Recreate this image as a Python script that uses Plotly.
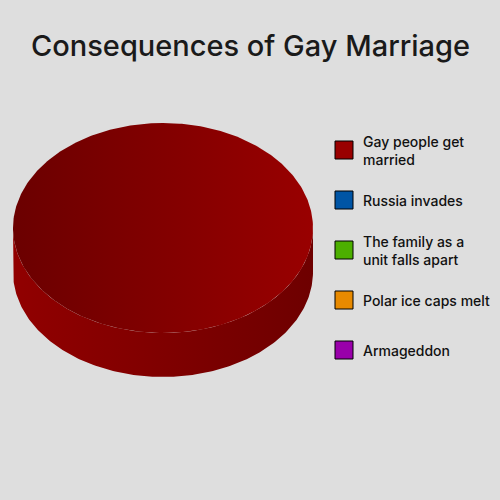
import numpy as np
import plotly.graph_objects as go

# chart data
categories = ["Gay people get<br>married", "Russia invades",
              "The family as a<br>unit falls apart", "Polar ice caps melt",
              "Armageddon"]
values = [100, 0, 0, 0, 0]
colors = ["#990000", "#0055a5", "#4caf00", "#e88a00", "#9900aa"]
title = "Consequences of Gay Marriage"

BG = "#dedede"
CX, CY = 163, 228      # centre of the top face (pixels)
RX, RY = 150, 105      # radii of the top ellipse
DEPTH = 44             # height of the cylinder side
FONT = "Inter"


def shade(hex_color, f):
    h = hex_color.lstrip("#")
    r, g, b = (int(h[i:i + 2], 16) for i in (0, 2, 4))
    return "rgb(%d,%d,%d)" % (r * f, g * f, b * f)


def ellipse_pts(t, dy=0):
    return CX + RX * np.sin(t), CY - RY * np.cos(t) + dy


fig = go.Figure()

total = sum(values)
angles = np.cumsum([0] + values) / total * 2 * np.pi

# side faces first (only the front half is visible)
for v, c, a0, a1 in zip(values, colors, angles[:-1], angles[1:]):
    if v == 0:
        continue
    s0, s1 = max(a0, np.pi / 2), min(a1, 3 * np.pi / 2)
    if s1 <= s0:
        continue
    t = np.linspace(s0, s1, 200)
    xt, yt = ellipse_pts(t)
    xb, yb = ellipse_pts(t[::-1], DEPTH)
    fig.add_trace(go.Scatter(
        x=np.concatenate([xt, xb]), y=np.concatenate([yt, yb]),
        mode="lines", fill="toself", line=dict(width=0),
        fillgradient=dict(type="horizontal",
                          colorscale=[[0, shade(c, 0.95)], [1, shade(c, 0.72)]]),
        hoverinfo="skip", showlegend=False))

# top faces
for v, c, a0, a1 in zip(values, colors, angles[:-1], angles[1:]):
    if v == 0:
        continue
    t = np.linspace(a0, a1, 400)
    xs, ys = ellipse_pts(t)
    if a1 - a0 < 2 * np.pi - 1e-9:
        xs = np.concatenate([[CX], xs, [CX]])
        ys = np.concatenate([[CY], ys, [CY]])
    fig.add_trace(go.Scatter(
        x=xs, y=ys, mode="lines", fill="toself", line=dict(width=0),
        fillgradient=dict(type="horizontal",
                          colorscale=[[0, shade(c, 0.7)], [1, shade(c, 1.0)]]),
        hoverinfo="skip", showlegend=False))

# legend swatches and labels
leg_y = [150 + 50 * i for i in range(len(categories))]
fig.add_trace(go.Scatter(
    x=[344] * len(categories), y=leg_y, mode="markers",
    marker=dict(symbol="square", size=18, color=colors,
                line=dict(color="black", width=1)),
    hoverinfo="skip", showlegend=False))
for name, y in zip(categories, leg_y):
    fig.add_annotation(x=361, y=y, text=name, showarrow=False,
                       xanchor="left", yanchor="middle", align="left",
                       font=dict(family=FONT, size=14, color="#111", weight=500))

fig.add_annotation(x=250, y=45, text=title, showarrow=False,
                   xanchor="center", yanchor="middle",
                   font=dict(family=FONT, size=29, color="#1a1a1a", weight=500))

fig.update_xaxes(range=[0, 500], visible=False, fixedrange=True)
fig.update_yaxes(range=[500, 0], visible=False, fixedrange=True)
fig.update_layout(width=500, height=500, margin=dict(l=0, r=0, t=0, b=0),
                  paper_bgcolor=BG, plot_bgcolor=BG, showlegend=False)

fig.write_html("out.html", config={"displayModeBar": False},
               post_script="document.body.style.margin='0';"
                           "document.body.style.background='%s';" % BG)
